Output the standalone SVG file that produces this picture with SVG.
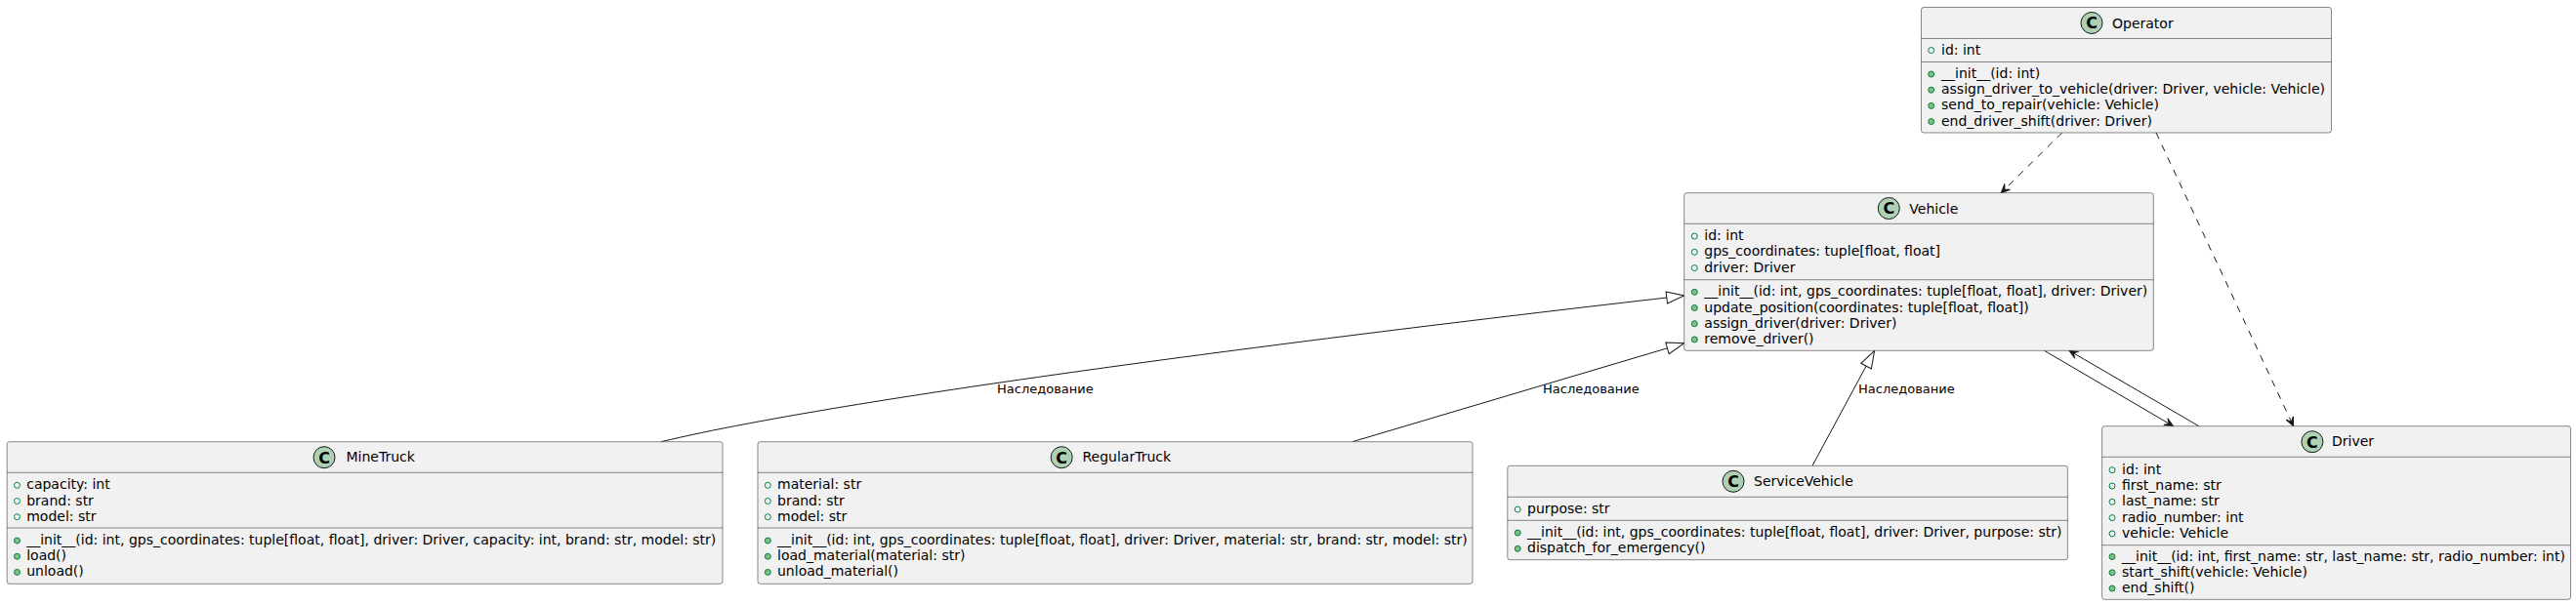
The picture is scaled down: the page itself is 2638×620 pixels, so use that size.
<svg xmlns="http://www.w3.org/2000/svg" width="2638" height="620" viewBox="0 0 2638 620">
<defs>
<style>
.box{fill:#F1F1F1;stroke:#181818;stroke-width:0.5}
.div{stroke:#181818;stroke-width:0.5}
.ci{fill:#ADD1B2;stroke:#181818;stroke-width:1}
.cl{font-family:"DejaVu Sans",sans-serif;font-size:16px;font-weight:bold;fill:#000000;text-anchor:middle}
.t{font-family:"DejaVu Sans",sans-serif;font-size:14px;fill:#000000}
.lbl{font-family:"DejaVu Sans",sans-serif;font-size:13px;fill:#000000}
.fi{fill:none;stroke:#038048;stroke-width:1}
.me{fill:#84BE84;stroke:#038048;stroke-width:1}
.e{fill:none;stroke:#181818;stroke-width:1}
.d{fill:none;stroke:#181818;stroke-width:1;stroke-dasharray:7,7}
</style>
<marker id="tri" markerUnits="userSpaceOnUse" viewBox="-1 0 21 14" markerWidth="21" markerHeight="14" refX="18" refY="7" orient="auto" overflow="visible">
<path d="M0,1 L18,7 L0,13 Z" fill="#FFFFFF" stroke="#181818" stroke-width="1" stroke-dasharray="none"/>
</marker>
<marker id="arr" markerUnits="userSpaceOnUse" viewBox="-1 -6 12 12" markerWidth="12" markerHeight="12" refX="9" refY="0" orient="auto" overflow="visible">
<path d="M9,0 L0,-4 L4,0 L0,4 Z" fill="#181818" stroke="#181818" stroke-width="1" stroke-dasharray="none"/>
</marker>
</defs>
<rect x="0" y="0" width="2638" height="620" fill="#FFFFFF"/>

<g id="connectors">
<path class="d" d="M2111.7,136 L2049.3,197.7" marker-end="url(#arr)"/>
<path class="d" d="M2208,136 L2348.6,436.7" marker-end="url(#arr)"/>
<path class="e" d="M2093.5,359.3 L2225.6,436.7" marker-end="url(#arr)"/>
<path class="e" d="M2251.8,436.7 L2119,359.3" marker-end="url(#arr)"/>
<path class="e" d="M677,452.7 C877,404.7 1400,340 1724.7,303" marker-end="url(#tri)"/>
<path class="e" d="M1385,452.7 L1724.7,351.7" marker-end="url(#tri)"/>
<path class="e" d="M1856,477.3 L1919.6,359.3" marker-end="url(#tri)"/>
<text class="lbl" x="1021" y="403">Наследование</text>
<text class="lbl" x="1580" y="403">Наследование</text>
<text class="lbl" x="1903" y="403">Наследование</text>
</g>

<g id="Operator">
<rect class="box" x="1967.5" y="7.5" width="420" height="128.5" rx="2.5"/>
<circle class="ci" cx="2142" cy="23.5" r="11"/>
<text class="cl" x="2142" y="29.3">C</text>
<text class="t" x="2163" y="28.5">Operator</text>
<line class="div" x1="1967.5" y1="39.5" x2="2387.5" y2="39.5"/>
<line class="div" x1="1967.5" y1="63.5" x2="2387.5" y2="63.5"/>
<circle class="fi" cx="1977.7" cy="51.5" r="3"/>
<text class="t" x="1988" y="55.5">id: int</text>
<circle class="me" cx="1977.7" cy="76" r="3"/>
<text class="t" x="1988" y="80">__init__(id: int)</text>
<circle class="me" cx="1977.7" cy="92.2" r="3"/>
<text class="t" x="1988" y="96.2">assign_driver_to_vehicle(driver: Driver, vehicle: Vehicle)</text>
<circle class="me" cx="1977.7" cy="108.4" r="3"/>
<text class="t" x="1988" y="112.4">send_to_repair(vehicle: Vehicle)</text>
<circle class="me" cx="1977.7" cy="124.6" r="3"/>
<text class="t" x="1988" y="128.6">end_driver_shift(driver: Driver)</text>
</g>

<g id="Vehicle">
<rect class="box" x="1724.7" y="197.7" width="480.6" height="161.6" rx="2.5"/>
<circle class="ci" cx="1934.3" cy="213.5" r="11"/>
<text class="cl" x="1934.3" y="219.3">C</text>
<text class="t" x="1955.3" y="218.5">Vehicle</text>
<line class="div" x1="1724.7" y1="229.3" x2="2205.3" y2="229.3"/>
<line class="div" x1="1724.7" y1="286.7" x2="2205.3" y2="286.7"/>
<circle class="fi" cx="1735.3" cy="242" r="3"/>
<text class="t" x="1745.3" y="246">id: int</text>
<circle class="fi" cx="1735.3" cy="258.3" r="3"/>
<text class="t" x="1745.3" y="262.3">gps_coordinates: tuple[float, float]</text>
<circle class="fi" cx="1735.3" cy="274.6" r="3"/>
<text class="t" x="1745.3" y="278.6">driver: Driver</text>
<circle class="me" cx="1735.3" cy="299.3" r="3"/>
<text class="t" x="1745.3" y="303.3">__init__(id: int, gps_coordinates: tuple[float, float], driver: Driver)</text>
<circle class="me" cx="1735.3" cy="315.5" r="3"/>
<text class="t" x="1745.3" y="319.5">update_position(coordinates: tuple[float, float])</text>
<circle class="me" cx="1735.3" cy="331.7" r="3"/>
<text class="t" x="1745.3" y="335.7">assign_driver(driver: Driver)</text>
<circle class="me" cx="1735.3" cy="347.9" r="3"/>
<text class="t" x="1745.3" y="351.9">remove_driver()</text>
</g>

<g id="MineTruck">
<rect class="box" x="7.2" y="452.7" width="732.8" height="145.6" rx="2.5"/>
<circle class="ci" cx="332" cy="468.7" r="11"/>
<text class="cl" x="332" y="474.5">C</text>
<text class="t" x="354.5" y="473.3">MineTruck</text>
<line class="div" x1="7.2" y1="484.3" x2="740" y2="484.3"/>
<line class="div" x1="7.2" y1="541" x2="740" y2="541"/>
<circle class="fi" cx="17.5" cy="497.3" r="3"/>
<text class="t" x="27.2" y="501.3">capacity: int</text>
<circle class="fi" cx="17.5" cy="513.5" r="3"/>
<text class="t" x="27.2" y="517.5">brand: str</text>
<circle class="fi" cx="17.5" cy="529.7" r="3"/>
<text class="t" x="27.2" y="533.7">model: str</text>
<circle class="me" cx="17.5" cy="554" r="3"/>
<text class="t" x="27.2" y="558">__init__(id: int, gps_coordinates: tuple[float, float], driver: Driver, capacity: int, brand: str, model: str)</text>
<circle class="me" cx="17.5" cy="570.2" r="3"/>
<text class="t" x="27.2" y="574.2">load()</text>
<circle class="me" cx="17.5" cy="586.4" r="3"/>
<text class="t" x="27.2" y="590.4">unload()</text>
</g>

<g id="RegularTruck">
<rect class="box" x="776" y="452.7" width="732" height="145.6" rx="2.5"/>
<circle class="ci" cx="1087.2" cy="468.7" r="11"/>
<text class="cl" x="1087.2" y="474.5">C</text>
<text class="t" x="1108.5" y="473.3">RegularTruck</text>
<line class="div" x1="776" y1="484.3" x2="1508" y2="484.3"/>
<line class="div" x1="776" y1="541" x2="1508" y2="541"/>
<circle class="fi" cx="786.3" cy="497.3" r="3"/>
<text class="t" x="796" y="501.3">material: str</text>
<circle class="fi" cx="786.3" cy="513.5" r="3"/>
<text class="t" x="796" y="517.5">brand: str</text>
<circle class="fi" cx="786.3" cy="529.7" r="3"/>
<text class="t" x="796" y="533.7">model: str</text>
<circle class="me" cx="786.3" cy="554" r="3"/>
<text class="t" x="796" y="558">__init__(id: int, gps_coordinates: tuple[float, float], driver: Driver, material: str, brand: str, model: str)</text>
<circle class="me" cx="786.3" cy="570.2" r="3"/>
<text class="t" x="796" y="574.2">load_material(material: str)</text>
<circle class="me" cx="786.3" cy="586.4" r="3"/>
<text class="t" x="796" y="590.4">unload_material()</text>
</g>

<g id="ServiceVehicle">
<rect class="box" x="1543.8" y="477.3" width="573.6" height="96.4" rx="2.5"/>
<circle class="ci" cx="1775" cy="493.3" r="11"/>
<text class="cl" x="1775" y="499.1">C</text>
<text class="t" x="1796" y="497.8">ServiceVehicle</text>
<line class="div" x1="1543.8" y1="509.3" x2="2117.4" y2="509.3"/>
<line class="div" x1="1543.8" y1="533.3" x2="2117.4" y2="533.3"/>
<circle class="fi" cx="1554.2" cy="522" r="3"/>
<text class="t" x="1564" y="526">purpose: str</text>
<circle class="me" cx="1554.2" cy="546" r="3"/>
<text class="t" x="1564" y="550">__init__(id: int, gps_coordinates: tuple[float, float], driver: Driver, purpose: str)</text>
<circle class="me" cx="1554.2" cy="562.3" r="3"/>
<text class="t" x="1564" y="566.3">dispatch_for_emergency()</text>
</g>

<g id="Driver">
<rect class="box" x="2152.6" y="436.7" width="479.9" height="177.6" rx="2.5"/>
<circle class="ci" cx="2367.9" cy="452.7" r="11"/>
<text class="cl" x="2367.9" y="458.5">C</text>
<text class="t" x="2388" y="457.2">Driver</text>
<line class="div" x1="2152.6" y1="468.3" x2="2632.5" y2="468.3"/>
<line class="div" x1="2152.6" y1="558.7" x2="2632.5" y2="558.7"/>
<circle class="fi" cx="2163" cy="481.7" r="3"/>
<text class="t" x="2173" y="485.7">id: int</text>
<circle class="fi" cx="2163" cy="498" r="3"/>
<text class="t" x="2173" y="502">first_name: str</text>
<circle class="fi" cx="2163" cy="514.3" r="3"/>
<text class="t" x="2173" y="518.3">last_name: str</text>
<circle class="fi" cx="2163" cy="530.6" r="3"/>
<text class="t" x="2173" y="534.6">radio_number: int</text>
<circle class="fi" cx="2163" cy="546.9" r="3"/>
<text class="t" x="2173" y="550.9">vehicle: Vehicle</text>
<circle class="me" cx="2163" cy="570.5" r="3"/>
<text class="t" x="2173" y="574.5">__init__(id: int, first_name: str, last_name: str, radio_number: int)</text>
<circle class="me" cx="2163" cy="586.8" r="3"/>
<text class="t" x="2173" y="590.8">start_shift(vehicle: Vehicle)</text>
<circle class="me" cx="2163" cy="603" r="3"/>
<text class="t" x="2173" y="607">end_shift()</text>
</g>
</svg>
